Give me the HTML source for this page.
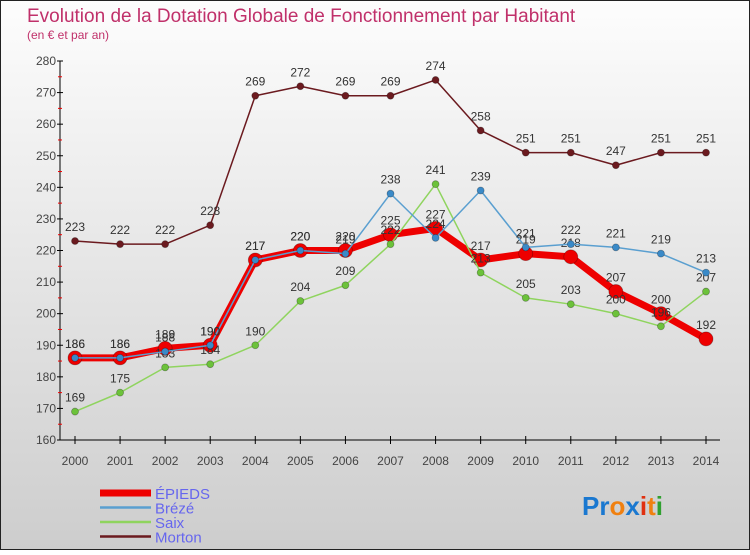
<!DOCTYPE html>
<html><head><meta charset="utf-8"><style>
body{margin:0;width:750px;height:550px;overflow:hidden;font-family:"Liberation Sans",sans-serif}
svg text{font-family:"Liberation Sans",sans-serif}
</style></head><body>
<svg id="chart" width="750" height="550" xmlns="http://www.w3.org/2000/svg">
<defs><linearGradient id="bg" x1="0" y1="0" x2="0" y2="1"><stop offset="0" stop-color="#fdfdfd"/><stop offset="1" stop-color="#cdcdcd"/></linearGradient></defs>
<rect x="0.5" y="0.5" width="749" height="549" fill="url(#bg)" stroke="#222"/>
<text x="27" y="22" font-size="19" fill="#c0306a">Evolution de la Dotation Globale de Fonctionnement par Habitant</text>
<text x="27" y="39" font-size="12" fill="#c0306a">(en € et par an)</text>
<g id="axes"></g><g id="series"></g><g id="legend"></g>
<text x="582" y="515" font-size="26" font-weight="bold"><tspan fill="#1a78d0">Pr</tspan><tspan fill="#f08010">o</tspan><tspan fill="#1a78d0">x</tspan><tspan fill="#e03010">i</tspan><tspan fill="#f08010">t</tspan><tspan fill="#30a030">i</tspan></text>
</svg>
<script>
const years=[2000,2001,2002,2003,2004,2005,2006,2007,2008,2009,2010,2011,2012,2013,2014];
const epieds=[186,186,189,190,217,220,220,225,227,217,219,218,207,200,192];
const breze=[186,186,188,190,217,220,219,238,224,239,221,222,221,219,213];
const saix=[169,175,183,184,190,204,209,222,241,213,205,203,200,196,207];
const morton=[223,222,222,228,269,272,269,269,274,258,251,251,247,251,251];
const yTicks=[160,170,180,190,200,210,220,230,240,250,260,270,280];
const NS="http://www.w3.org/2000/svg";
const X=i=>75+i*(631/14);
const Y=v=>440-(v-160)*(379/120);
function mk(p,tag,at){const e=document.createElementNS(NS,tag);for(const k in at)e.setAttribute(k,at[k]);p.appendChild(e);return e;}
const ax=document.getElementById('axes');
let l=mk(ax,'line',{x1:60,y1:Y(280),x2:60,y2:440,stroke:'#000'});


l=mk(ax,'line',{x1:60,y1:440,x2:720,y2:440,stroke:'#000'});


yTicks.forEach((v,i)=>{
 mk(ax,'line',{x1:57,y1:Y(v),x2:63,y2:Y(v),stroke:'#000'});
 if(i<yTicks.length-1)mk(ax,'line',{x1:58,y1:Y(v+5),x2:62,y2:Y(v+5),stroke:'#e00'});
 const t=mk(ax,'text',{x:56,y:Y(v)+4,'font-size':12,fill:'#444','text-anchor':'end'});t.textContent=v;
 
 
});
years.forEach((y,i)=>{
 mk(ax,'line',{x1:X(i),y1:436,x2:X(i),y2:444,stroke:'#000'});
 const t=mk(ax,'text',{x:X(i),y:465,'font-size':12,fill:'#444','text-anchor':'middle'});t.textContent=y;
 
 
});
const ser=[
 {n:'morton',d:morton,c:'#6b1a1f',w:1.5,r:3.5,lab:'Morton'},
 {n:'saix',d:saix,c:'#8fd45e',w:1.5,r:3.5,fc:'#6cc23a',lab:'Saix'},
 {n:'breze',d:breze,c:'#5a9fd0',w:1.5,r:3.5,fc:'#3a8ac8',lab:'Brézé'},
 {n:'epieds',d:epieds,c:'#ee0000',w:7,r:7,lab:'ÉPIEDS'}];
const sg=document.getElementById('series');
const order=[ser[3],ser[0],ser[1],ser[2]];
order.forEach(s=>{
 const g=mk(sg,'g',{});
 
 
 const p=mk(g,'polyline',{points:s.d.map((v,i)=>X(i)+','+Y(v)).join(' '),fill:'none',stroke:s.c,'stroke-width':s.w,'stroke-linejoin':'round'});
 
 
 s.d.forEach((v,i)=>{
  const c=mk(g,'circle',{cx:X(i),cy:Y(v),r:s.r,fill:s.fc||s.c,stroke:'rgba(0,0,0,0.3)','stroke-width':0.8});
  
  
  const t=mk(g,'text',{x:X(i),y:Y(v)-10,'font-size':12,fill:'#333','text-anchor':'middle'});t.textContent=v;
  
  
 });
});
const lg=document.getElementById('legend');
[ser[3],ser[2],ser[1],ser[0]].forEach((s,i)=>{
 const y=493+i*14.5;
 const g=mk(lg,'g',{});
 
 
 mk(g,'line',{x1:100,y1:y,x2:151,y2:y,stroke:s.c,'stroke-width':i==0?7:2.5});
 const t=mk(g,'text',{x:155,y:y+6,'font-size':15,fill:'#6666ee'});t.textContent=s.lab;
});
</script>
</body></html>
